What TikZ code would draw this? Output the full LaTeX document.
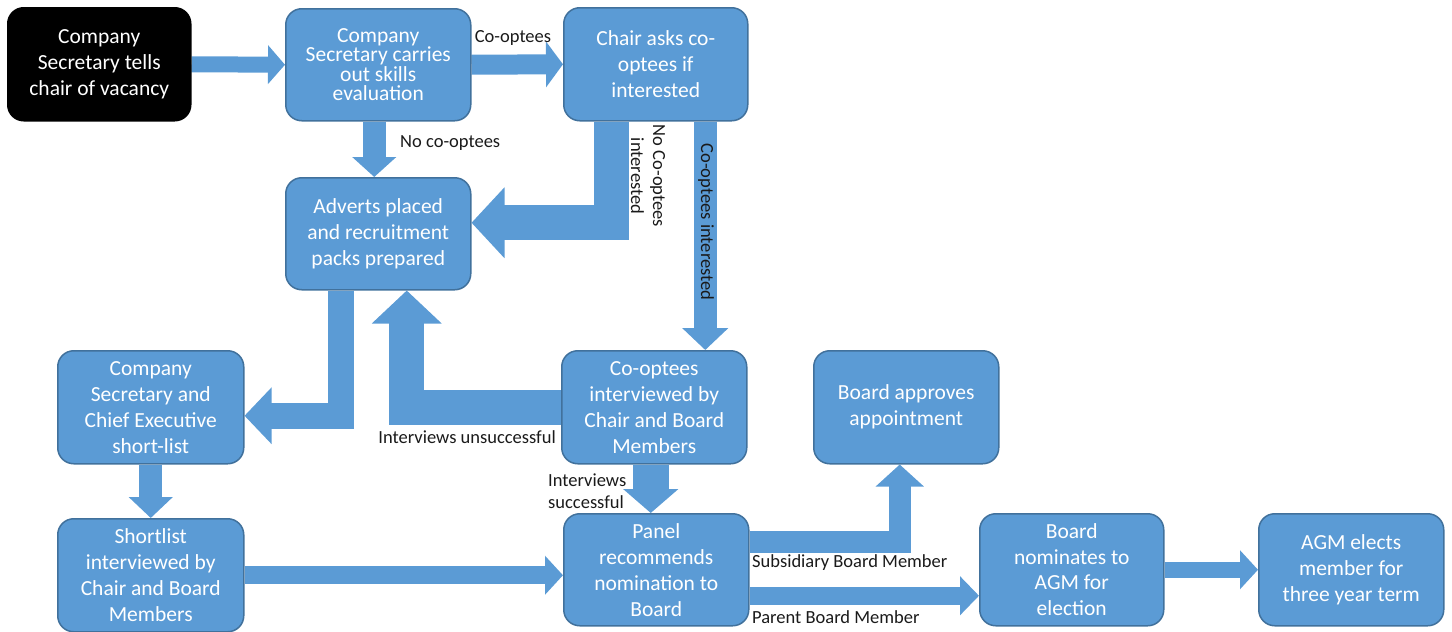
\documentclass[tikz,border=0pt]{standalone}
\usepackage{fontspec}
\setmainfont{Carlito}
\usetikzlibrary{arrows.meta,calc}
\definecolor{boxblue}{HTML}{5B9BD5}
\definecolor{boxedge}{HTML}{41719C}
\definecolor{lbltext}{HTML}{1A1A1A}
\pgfdeclarelayer{bg}
\pgfsetlayers{bg,main}
\begin{document}
\begin{tikzpicture}[x=1pt,y=-1pt,
 box/.style={draw=boxedge, line width=1.5pt, fill=boxblue, rounded corners=16pt, text=white, align=center,
   font=\fontsize{21.5}{26}\selectfont, inner sep=0pt, anchor=north west},
 lbl/.style={font=\fontsize{18.5}{22}\selectfont, inner sep=0pt, text=lbltext},
 barrow/.style args={#1/#2/#3}{draw=boxblue, line width=#1, line join=miter, -{Triangle[width=#2,length=#3]}}]
\useasboundingbox (0,0) rectangle (1452,632);

\node[box, fill=black, draw=black, minimum width=183pt, minimum height=113pt] (n1) at (7,7) {Company\\Secretary tells\\chair of vacancy};
\node[box, minimum width=185pt, minimum height=112pt, font=\fontsize{21.5}{19.5}\selectfont] (n2) at (285,8) {Company\\Secretary carries\\out skills\\evaluation};
\node[box, minimum width=184pt, minimum height=113pt] (n3) at (563,7) {Chair asks co-\\optees if\\interested};
\node[box, minimum width=185pt, minimum height=112pt] (n4) at (285,177) {Adverts placed\\and recruitment\\packs prepared};
\node[box, minimum width=186pt, minimum height=113pt] (n5) at (57,350) {Company\\Secretary and\\Chief Executive\\short-list};
\node[box, minimum width=186pt, minimum height=113pt] (n6) at (57,518) {Shortlist\\interviewed by\\Chair and Board\\Members};
\node[box, minimum width=185pt, minimum height=113pt] (n7) at (561,350) {Co-optees\\interviewed by\\Chair and Board\\Members};
\node[box, minimum width=185pt, minimum height=113pt] (n8) at (813,350) {Board approves\\appointment};
\node[box, minimum width=185pt, minimum height=112pt] (n9) at (563,513) {Panel\\recommends\\nomination to\\Board};
\node[box, minimum width=184pt, minimum height=112pt, font=\fontsize{21.5}{25.5}\selectfont] (n10) at (979,513) {Board\\nominates to\\AGM for\\election};
\node[box, minimum width=185pt, minimum height=112pt] (n11) at (1258,513) {AGM elects\\member for\\three year term};

\coordinate (a3) at ([xshift=-4pt]n2.south);
\coordinate (a4) at ([xshift=-44.5pt]n3.south);
\coordinate (a5) at ([xshift=49.5pt]n3.south);
\coordinate (a6) at ([xshift=-37.5pt]n4.south);
\coordinate (a7) at ([xshift=28.5pt]n4.south);
\coordinate (a9) at ([xshift=-3.5pt]n7.south);
\coordinate (a11) at ([yshift=28pt]n9.east);
\coordinate (a12) at ([yshift=-26pt]n9.east);

\begin{pgfonlayer}{bg}
\draw[barrow=16pt/38pt/17pt] (n1.east) -- (n2.west);
\draw[barrow=20pt/45pt/17pt] (n2.east) -- (n3.west);
\draw[barrow=23pt/43pt/20pt] (a3) -- (a3 |- n4.north);
\draw[barrow=35pt/69pt/33pt] (a4) |- ([yshift=11pt]n4.east);
\draw[barrow=23pt/45pt/22pt] (a5) -- (a5 |- n7.north);
\draw[barrow=26pt/55pt/27pt] (a6) |- ([yshift=-8.5pt]n5.east);
\draw[barrow=35pt/68pt/33pt] (n7.west) -| (a7);
\draw[barrow=23pt/43pt/21pt] (n5.south) -- (n6.north);
\draw[barrow=36pt/54pt/24pt] (a9) -- (a9 |- n9.north);
\draw[barrow=18pt/38pt/18pt] (n6.east) -- (n6.east -| n9.west);
\draw[barrow=22pt/47pt/22pt] (a11) -| ([xshift=-6.5pt]n8.south);
\draw[barrow=18pt/38pt/19pt] (a12) -- (a12 -| n10.west);
\draw[barrow=16pt/38pt/18pt] (n10.east) -- (n11.west);
\end{pgfonlayer}

\node[lbl] (l1) at (513,38) {Co-optees};
\node[lbl, anchor=west] (l2) at (400,143) {No co-optees};
\node[lbl, rotate=-90, align=center] (l3) at (648,176) {No Co-optees\\interested};
\node[lbl, rotate=-90] (l4) at (706,222) {Co-optees interested};
\node[lbl, anchor=east] (l5) at (556,437) {Interviews unsuccessful};
\node[lbl, anchor=west, align=left] (l6) at (548,491) {Interviews\\successful};
\node[lbl, anchor=west] (l7) at (752,563) {Subsidiary Board Member};
\node[lbl, anchor=west] (l8) at (752,617) {Parent Board Member};
\end{tikzpicture}
\end{document}
